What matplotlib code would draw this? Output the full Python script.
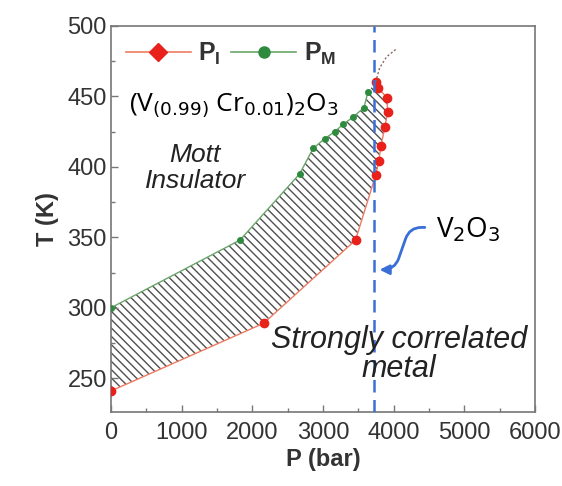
import numpy as np
import matplotlib.pyplot as plt
from matplotlib.lines import Line2D
from matplotlib.ticker import MultipleLocator

plt.rcParams["font.family"] = ["Liberation Sans", "DejaVu Sans"]
plt.rcParams["hatch.linewidth"] = 1.0

# P_M boundary (green), P (bar) vs T (K)
pm_p = [0, 1825, 2670, 2860, 3025, 3170, 3280, 3420, 3580, 3635]
pm_t = [300, 348, 395, 413, 420, 425, 430, 435, 442, 453]

# P_I boundary (red)
pi_p = [0, 2160, 3460, 3745, 3790, 3820, 3875, 3915, 3905, 3775, 3745]
pi_t = [241, 289, 348, 394, 404, 415, 428, 439, 449, 456, 460]

# faint continuation above the critical point
ext_p = [3745, 3800, 3900, 4050]
ext_t = [460, 470, 478, 484]

v2o3_p = 3720

fig = plt.figure(figsize=(5.62, 4.86), dpi=100)
ax = fig.add_axes([0.1975, 0.152, 0.7545, 0.795])

poly_p = np.concatenate([pm_p, pi_p[::-1]])
poly_t = np.concatenate([pm_t, pi_t[::-1]])
ax.fill(poly_p, poly_t, facecolor="white", edgecolor="#505050", linewidth=0,
        hatch="\\\\\\\\", zorder=1)

ax.plot(pm_p, pm_t, color="#6aa56a", lw=1.0, marker="o", ms=4,
        mfc="#2e8b3e", mec="#2e8b3e", zorder=3)
ax.plot(pi_p, pi_t, color="#ee7b62", lw=1.0, marker="o", ms=6,
        mfc="#e8211a", mec="#e8211a", zorder=3)
ax.plot(ext_p, ext_t, color="#8a6a60", lw=1.0, ls=(0, (1.5, 1.5)), zorder=3)

ax.axvline(v2o3_p, color="#3a6fd8", lw=1.8, ls=(0, (5, 3)), zorder=4)

ax.set_xlim(0, 6000)
ax.set_ylim(226, 500)
ax.xaxis.set_major_locator(MultipleLocator(1000))
ax.xaxis.set_minor_locator(MultipleLocator(500))
ax.yaxis.set_major_locator(MultipleLocator(50))
ax.yaxis.set_minor_locator(MultipleLocator(25))
ax.tick_params(which="both", direction="in", colors="#777777",
               labelcolor="#333333", labelsize=17, width=1)
ax.tick_params(which="major", length=5)
ax.tick_params(which="minor", length=3)
ax.tick_params(axis="x", pad=7)
ax.tick_params(axis="y", pad=3)
for s in ax.spines.values():
    s.set_color("#777777")
    s.set_linewidth(1.2)

ax.set_xlabel("P (bar)", fontsize=17, fontweight="bold", color="#333333", labelpad=3)
ax.set_ylabel("T (K)", fontsize=17, fontweight="bold", color="#333333", labelpad=6)

handles = [
    Line2D([], [], color="#ee7b62", lw=1.2, marker="D", ms=9, mfc="#e8211a", mec="#e8211a"),
    Line2D([], [], color="#6aa56a", lw=1.2, marker="o", ms=8, mfc="#2e8b3e", mec="#2e8b3e"),
]
leg = ax.legend(handles, [r"P$_\mathregular{I}$", r"P$_\mathregular{M}$"], loc="upper left",
                ncol=2, frameon=False, handlelength=2.6, columnspacing=0.4,
                handletextpad=0.3, borderaxespad=0.2, prop={"weight": "bold", "size": 18})
for t in leg.get_texts():
    t.set_color("#333333")

ax.text(250, 444, r"(V$_{(0.99)}$ Cr$_{0.01}$)$_2$O$_3$", fontsize=19,
        family=["Open Sans", "DejaVu Sans"], ha="left", va="center", color="black")
ax.text(1190, 399, "Mott\nInsulator", fontsize=19, style="italic", ha="center",
        va="center", color="#222222", linespacing=1.1)
ax.text(4070, 267, "Strongly correlated\nmetal", fontsize=22, style="italic", ha="center",
        va="center", color="#222222", linespacing=0.95, zorder=5)
ax.text(4600, 355, r"V$_2$O$_3$", fontsize=20, family=["Open Sans", "DejaVu Sans"],
        ha="left", va="center", color="black")

ax.annotate("", xy=(3760, 327), xytext=(4480, 357),
            arrowprops=dict(arrowstyle="-|>", color="#3a6fd8", lw=2.0, mutation_scale=14,
                            connectionstyle="arc,angleA=180,angleB=0,armA=18,armB=18,rad=12"))

fig.savefig("out.png", dpi=100)
